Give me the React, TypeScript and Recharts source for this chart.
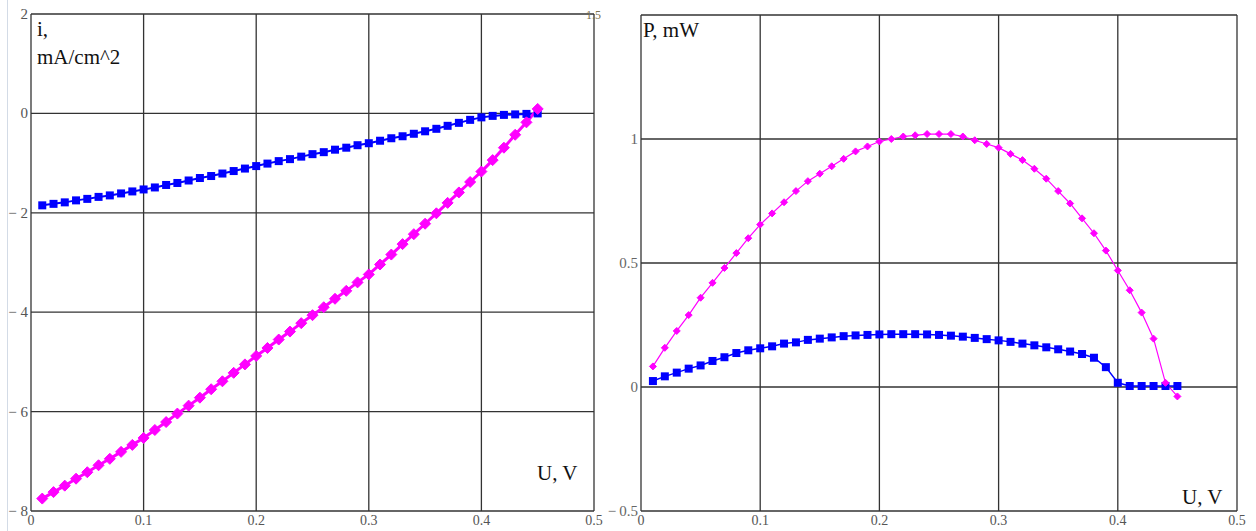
import { LineChart, Line, XAxis, YAxis, CartesianGrid } from 'recharts';

// voltage steps, V
const U = [
  0.01, 0.02, 0.03, 0.04, 0.05, 0.06, 0.07, 0.08, 0.09, 0.1,
  0.11, 0.12, 0.13, 0.14, 0.15, 0.16, 0.17, 0.18, 0.19, 0.2,
  0.21, 0.22, 0.23, 0.24, 0.25, 0.26, 0.27, 0.28, 0.29, 0.3,
  0.31, 0.32, 0.33, 0.34, 0.35, 0.36, 0.37, 0.38, 0.39, 0.4,
  0.41, 0.42, 0.43, 0.44, 0.45,
];

// current density, mA/cm^2
const I_BLUE = [
  -1.85, -1.82, -1.79, -1.75, -1.72, -1.68, -1.65, -1.61, -1.57, -1.53,
  -1.49, -1.44, -1.4, -1.35, -1.3, -1.26, -1.21, -1.16, -1.11, -1.06,
  -1.01, -0.96, -0.92, -0.87, -0.82, -0.78, -0.73, -0.69, -0.64, -0.6,
  -0.55, -0.5, -0.46, -0.41, -0.36, -0.31, -0.25, -0.19, -0.13, -0.08,
  -0.05, -0.03, -0.02, -0.01, 0.0,
];
const I_PINK = [
  -7.75, -7.62, -7.49, -7.35, -7.22, -7.08, -6.95, -6.81, -6.67, -6.53,
  -6.37, -6.21, -6.04, -5.88, -5.72, -5.55, -5.39, -5.22, -5.05, -4.88,
  -4.72, -4.55, -4.39, -4.22, -4.06, -3.9, -3.73, -3.57, -3.4, -3.24,
  -3.04, -2.84, -2.63, -2.43, -2.22, -2.01, -1.8, -1.59, -1.38, -1.17,
  -0.94, -0.69, -0.43, -0.18, 0.09,
];

// power, mW
const P_BLUE = [
  0.024, 0.043, 0.058, 0.074, 0.087, 0.105, 0.12, 0.137, 0.148, 0.156,
  0.164, 0.175, 0.18, 0.19, 0.195, 0.2, 0.205, 0.208, 0.21, 0.212,
  0.213, 0.213, 0.213, 0.212, 0.21, 0.207, 0.203, 0.198, 0.193, 0.188,
  0.182, 0.175, 0.168, 0.16, 0.152, 0.143, 0.133, 0.118, 0.08, 0.017,
  0.004, 0.004, 0.004, 0.004, 0.004,
];
const P_PINK = [
  0.083, 0.158, 0.226, 0.29, 0.36, 0.42, 0.48, 0.54, 0.6, 0.655,
  0.7, 0.745, 0.79, 0.83, 0.86, 0.89, 0.92, 0.95, 0.97, 0.99,
  1.0, 1.01, 1.015, 1.02, 1.02, 1.02, 1.01, 0.995, 0.98, 0.965,
  0.94, 0.915, 0.88, 0.84, 0.79, 0.74, 0.68, 0.62, 0.55, 0.47,
  0.39, 0.3, 0.195, 0.017, -0.038,
];

const X_TICKS = [0, 0.1, 0.2, 0.3, 0.4, 0.5];
const I_TICKS = [-8, -6, -4, -2, 0, 2];
const P_TICKS = [-0.5, 0, 0.5, 1, 1.5];

const BLUE = '#0000ff';
const PINK = '#ff00ff';
const GRID = '#333';
const SERIF = '"Liberation Serif", "Times New Roman", serif';

const currentData = U.map((u, k) => ({ u, blue: I_BLUE[k], pink: I_PINK[k] }));
const powerData = U.map((u, k) => ({ u, blue: P_BLUE[k], pink: P_PINK[k] }));

const fmtNum = (v: number) => (v < 0 ? `\u2212 ${Math.abs(v)}` : `${v}`);

const XTick = ({ x, y, payload }: any) => (
  <text x={x} y={y} dy={14} textAnchor="middle" fontSize={14} fill="#555" fontFamily={SERIF}>
    {payload.value}
  </text>
);

const LeftYTick = ({ x, y, payload }: any) => (
  <text x={x} y={y} dy={5} textAnchor="end" fontSize={15} fill="#555" fontFamily={SERIF}>
    {fmtNum(payload.value)}
  </text>
);

// the 1.5 label sits left of the svg, drawn as html below
const RightYTick = ({ x, y, payload }: any) => {
  if (payload.value === 1.5) return <g />;
  const label = payload.value < 0 ? `\u2212\u2009${Math.abs(payload.value)}` : `${payload.value}`;
  return (
    <text x={x} y={y} dy={5} textAnchor="end" fontSize={15} fill="#666" fontFamily={SERIF}>
      {label}
    </text>
  );
};

const square = (size: number) => (p: any) => (
  <rect key={`sq-${p.index}`} x={p.cx - size / 2} y={p.cy - size / 2} width={size} height={size} fill={BLUE} />
);

const diamond = (r: number) => (p: any) => (
  <polygon
    key={`dm-${p.index}`}
    points={`${p.cx},${p.cy - r} ${p.cx + r},${p.cy} ${p.cx},${p.cy + r} ${p.cx - r},${p.cy}`}
    fill={PINK}
    stroke={PINK}
    strokeWidth={1}
  />
);

const labelStyle = {
  position: 'absolute' as const,
  fontFamily: SERIF,
  fontSize: 21,
  color: '#111',
  lineHeight: '22px',
  whiteSpace: 'nowrap' as const,
};

export default function App() {
  return (
    <div style={{ position: 'absolute', left: 0, top: 0, width: 1256, height: 531, background: '#fff', overflow: 'hidden' }}>
      <div style={{ position: 'absolute', left: 7, top: 0, width: 1, height: 531, background: '#d3dbe6' }} />

      <div style={{ position: 'absolute', left: 0, top: 0 }}>
        <LineChart width={614} height={531} data={currentData} margin={{ top: 14, right: 20, bottom: 0, left: 0 }}>
          <CartesianGrid stroke={GRID} strokeWidth={1.3} />
          <XAxis
            type="number"
            dataKey="u"
            domain={[0, 0.5]}
            ticks={X_TICKS}
            interval={0}
            axisLine={false}
            tickLine={false}
            tickSize={0}
            tickMargin={0}
            height={20}
            tick={XTick}
          />
          <YAxis
            type="number"
            domain={[-8, 2]}
            ticks={I_TICKS}
            interval={0}
            axisLine={false}
            tickLine={false}
            tickSize={0}
            tickMargin={3}
            width={31}
            tick={LeftYTick}
          />
          <Line type="linear" dataKey="blue" stroke={BLUE} strokeWidth={2} dot={square(8)} isAnimationActive={false} />
          <Line type="linear" dataKey="pink" stroke={PINK} strokeWidth={3} dot={diamond(5.5)} isAnimationActive={false} />
        </LineChart>
      </div>

      <div style={{ position: 'absolute', left: 600, top: 0 }}>
        <LineChart width={656} height={531} data={powerData} margin={{ top: 15, right: 19, bottom: 0, left: 0 }}>
          <CartesianGrid stroke={GRID} strokeWidth={1.3} />
          <XAxis
            type="number"
            dataKey="u"
            domain={[0, 0.5]}
            ticks={X_TICKS}
            interval={0}
            axisLine={false}
            tickLine={false}
            tickSize={0}
            tickMargin={0}
            height={20}
            tick={XTick}
          />
          <YAxis
            type="number"
            domain={[-0.5, 1.5]}
            ticks={P_TICKS}
            interval={0}
            axisLine={false}
            tickLine={false}
            tickSize={0}
            tickMargin={3}
            width={41}
            tick={RightYTick}
          />
          <Line type="linear" dataKey="blue" stroke={BLUE} strokeWidth={1.5} dot={square(8)} isAnimationActive={false} />
          <Line type="linear" dataKey="pink" stroke={PINK} strokeWidth={1.2} dot={diamond(3.5)} isAnimationActive={false} />
        </LineChart>
      </div>

      <div style={{ position: 'absolute', left: 586, top: 8, fontFamily: SERIF, fontSize: 12, color: '#7a7250' }}>1.5</div>
      <div style={{ ...labelStyle, left: 37, top: 18 }}>i,</div>
      <div style={{ ...labelStyle, left: 37, top: 46 }}>mA/cm^2</div>
      <div style={{ ...labelStyle, left: 537, top: 462 }}>U, V</div>
      <div style={{ ...labelStyle, left: 643, top: 19 }}>P, mW</div>
      <div style={{ ...labelStyle, left: 1182, top: 486 }}>U, V</div>
    </div>
  );
}
